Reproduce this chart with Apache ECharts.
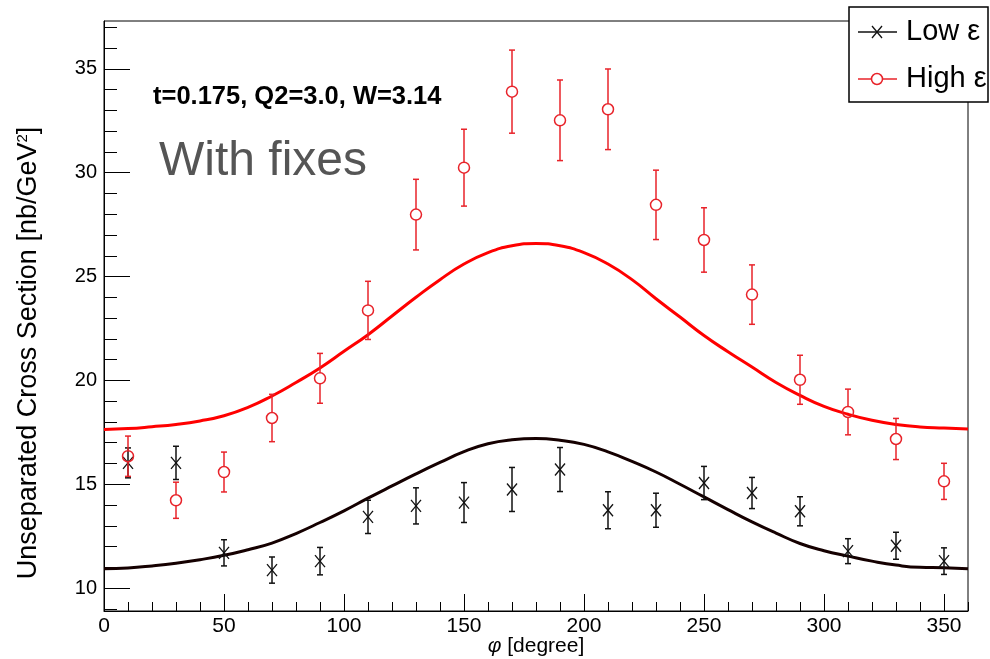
<!DOCTYPE html>
<html>
<head>
<meta charset="utf-8">
<title>Unseparated Cross Section</title>
<script src="https://cdn.jsdelivr.net/npm/echarts@6/dist/echarts.min.js"></script>
<style>
  html, body { margin:0; padding:0; background:#fff; }
  #chart { width:990px; height:659px; }
</style>
</head>
<body>
<div id="chart"></div>
<script>
const FONT = 'Liberation Sans, Arial, Helvetica, sans-serif';

// measured points (phi in degree)
const phi = [10, 30, 50, 70, 90, 110, 130, 150, 170, 190, 210, 230, 250, 270, 290, 310, 330, 350];
const lowEps  = [16.03, 16.03, 11.70, 10.87, 11.30, 13.43, 13.96, 14.12, 14.75, 15.71, 13.75, 13.75, 15.06, 14.58, 13.70, 11.78, 12.04, 11.30];
const lowErr  = [0.72, 0.80, 0.63, 0.63, 0.66, 0.80, 0.87, 0.96, 1.06, 1.06, 0.89, 0.82, 0.80, 0.75, 0.70, 0.60, 0.65, 0.64];
const highEps = [16.35, 14.23, 15.59, 18.19, 20.10, 23.37, 27.98, 30.24, 33.90, 32.52, 33.05, 28.45, 26.76, 24.13, 20.03, 18.48, 17.18, 15.14];
const highErr = [0.97, 0.87, 0.96, 1.14, 1.20, 1.40, 1.70, 1.85, 2.00, 1.94, 1.94, 1.67, 1.55, 1.43, 1.18, 1.10, 0.99, 0.87];

// fitted curves, read every 10 degree
const fitPhi = [0, 10, 20, 30, 40, 50, 60, 70, 80, 90, 100, 110, 120, 130, 140, 150, 160, 170, 180,
                190, 200, 210, 220, 230, 240, 250, 260, 270, 280, 290, 300, 310, 320, 330, 340, 350, 360];
const lowFit  = [10.93, 10.97, 11.07, 11.20, 11.37, 11.58, 11.85, 12.17, 12.63, 13.16, 13.72, 14.33, 14.92, 15.50, 16.05, 16.57, 16.95, 17.14, 17.20,
                 17.12, 16.92, 16.56, 16.10, 15.59, 15.00, 14.39, 13.78, 13.19, 12.65, 12.15, 11.80, 11.54, 11.30, 11.11, 11.00, 10.98, 10.93];
const highFit = [17.64, 17.68, 17.77, 17.88, 18.05, 18.30, 18.70, 19.25, 19.90, 20.60, 21.40, 22.20, 23.10, 24.00, 24.85, 25.60, 26.15, 26.48, 26.59,
                 26.48, 26.15, 25.60, 24.85, 23.93, 23.05, 22.16, 21.38, 20.64, 19.90, 19.28, 18.75, 18.37, 18.08, 17.88, 17.76, 17.71, 17.66];

// axis ticks and labels
const xMinorTicks = [10, 20, 30, 40, 60, 70, 80, 90, 110, 120, 130, 140, 160, 170, 180, 190, 210, 220, 230, 240, 260, 270, 280, 290, 310, 320, 330, 340, 360];
const xMajorTicks = [0, 50, 100, 150, 200, 250, 300, 350];
const xLabels = [0, 50, 100, 150, 200, 250, 300, 350];
const yMinorTicks = [9, 11, 12, 13, 14, 16, 17, 18, 19, 21, 22, 23, 24, 26, 27, 28, 29, 31, 32, 33, 34, 36, 37];
const yMajorTicks = [10, 15, 20, 25, 30, 35];
const yLabels = [10, 15, 20, 25, 30, 35];

const RED = '#e8232a';
const BLACK = '#111111';

function errorBarRender(kind){
    return function(params, api){
        let x = api.value(0), y = api.value(1), e = api.value(2);
        let c = api.coord([x, y]);
        let top = api.coord([x, y + e]);
        let bot = api.coord([x, y - e]);
        let color = kind === 'high' ? RED : BLACK;
        let lw = 1.5;
        let children = [];
        let line = (x1, y1, x2, y2, w)=>({
            type:'line',
            shape:{ x1:x1, y1:y1, x2:x2, y2:y2 },
            style:{ stroke:color, lineWidth:w || lw }
        });
        if ( kind === 'high' ){
            let r = 5.5;
            children.push(line(c[0], top[1], c[0], c[1] - r));
            children.push(line(c[0], c[1] + r, c[0], bot[1]));
            children.push({
                type:'circle',
                shape:{ cx:c[0], cy:c[1], r:r },
                style:{ fill:'none', stroke:color, lineWidth:1.5 }
            });
        } else {
            children.push(line(c[0], top[1], c[0], bot[1]));
            children.push(line(c[0] - 5, c[1] - 6, c[0] + 5, c[1] + 6, 1.3));
            children.push(line(c[0] - 5, c[1] + 6, c[0] + 5, c[1] - 6, 1.3));
        }
        children.push(line(c[0] - 3, top[1], c[0] + 3, top[1]));
        children.push(line(c[0] - 3, bot[1], c[0] + 3, bot[1]));
        return { type:'group', children:children };
    }
}

let myChart = echarts.init(document.getElementById('chart'));

let axisCommon = {
    type:'value',
    splitLine:{ show:false },
    axisLine:{ show:true, onZero:false, lineStyle:{ color:'#000', width:1 } }
};

let option = {
    animation:false,
    backgroundColor:'#fff',
    grid:{
        left:104,
        right:22,
        top:21,
        bottom:48,
        show:true,
        borderColor:'#000',
        borderWidth:1,
        containLabel:false,
        outerBoundsMode:'none'
    },
    xAxis:[
        Object.assign({}, axisCommon, {
            min:0,
            max:360,
            position:'bottom',
            name:'{i|φ} [degree]',
            nameLocation:'middle',
            nameGap:25,
            nameMoveOverlap:false,
            nameTextStyle:{
                fontFamily:FONT, fontSize:21, color:'#000',
                rich:{ i:{ fontFamily:FONT, fontSize:21, fontStyle:'italic', color:'#000' } }
            },
            axisTick:{ show:true, inside:true, length:9, customValues:xMinorTicks, lineStyle:{ color:'#000' } },
            axisLabel:{ customValues:xLabels, fontFamily:FONT, fontSize:21, color:'#000', margin:5 }
        }),
        Object.assign({}, axisCommon, {
            min:0,
            max:360,
            position:'bottom',
            axisLine:{ show:false },
            axisTick:{ show:true, inside:true, length:17, customValues:xMajorTicks, lineStyle:{ color:'#000' } },
            axisLabel:{ show:false }
        })
    ],
    yAxis:[
        Object.assign({}, axisCommon, {
            min:8.9,
            max:37.3,
            position:'left',
            name:'Unseparated Cross Section [nb/GeV{sup|2}]',
            nameLocation:'middle',
            nameGap:62,
            nameMoveOverlap:false,
            nameTextStyle:{
                fontFamily:FONT, fontSize:27, color:'#000',
                padding:[0, 74, 0, 0],
                rich:{ sup:{ fontFamily:FONT, fontSize:15, color:'#000', verticalAlign:'top', padding:[0, 0, 12, 0] } }
            },
            axisTick:{ show:true, inside:true, length:13, customValues:yMinorTicks, lineStyle:{ color:'#000' } },
            axisLabel:{ customValues:yLabels, fontFamily:FONT, fontSize:20, color:'#000', margin:7 }
        }),
        Object.assign({}, axisCommon, {
            min:8.9,
            max:37.3,
            position:'left',
            axisLine:{ show:false },
            axisTick:{ show:true, inside:true, length:26, customValues:yMajorTicks, lineStyle:{ color:'#000' } },
            axisLabel:{ show:false }
        })
    ],
    series:[
        {
            type:'line',
            name:'High ε fit',
            data:fitPhi.map((p, i)=>[p, highFit[i]]),
            smooth:true,
            showSymbol:false,
            lineStyle:{ color:'#ff0000', width:3 },
            z:2
        },
        {
            type:'line',
            name:'Low ε fit',
            data:fitPhi.map((p, i)=>[p, lowFit[i]]),
            smooth:true,
            showSymbol:false,
            lineStyle:{ color:'#150000', width:3 },
            z:2
        },
        {
            type:'custom',
            name:'Low ε',
            renderItem:errorBarRender('low'),
            encode:{ x:0, y:1 },
            data:phi.map((p, i)=>[p, lowEps[i], lowErr[i]]),
            z:3
        },
        {
            type:'custom',
            name:'High ε',
            renderItem:errorBarRender('high'),
            encode:{ x:0, y:1 },
            data:phi.map((p, i)=>[p, highEps[i], highErr[i]]),
            z:3
        }
    ],
    graphic:[
        {
            type:'text',
            left:153,
            top:84,
            style:{ text:'t=0.175, Q2=3.0, W=3.14', font:'bold 25.5px ' + FONT, fill:'#000' }
        },
        {
            type:'text',
            left:159,
            top:138,
            style:{ text:'With fixes', font:'48px ' + FONT, fill:'#555555' }
        },
        {
            type:'group',
            z:100,
            children:[
                { type:'rect', shape:{ x:849, y:7, width:139, height:95 }, style:{ fill:'#fff', stroke:'#000', lineWidth:1.5 } },
                { type:'line', shape:{ x1:858, y1:32, x2:897, y2:32 }, style:{ stroke:BLACK, lineWidth:1.3 } },
                { type:'line', shape:{ x1:872, y1:26, x2:882, y2:38 }, style:{ stroke:BLACK, lineWidth:1.3 } },
                { type:'line', shape:{ x1:872, y1:38, x2:882, y2:26 }, style:{ stroke:BLACK, lineWidth:1.3 } },
                { type:'text', style:{ x:906, y:32, text:'Low ε', font:'29px ' + FONT, fill:'#000', verticalAlign:'middle' } },
                { type:'line', shape:{ x1:858, y1:79, x2:897, y2:79 }, style:{ stroke:RED, lineWidth:1.3 } },
                { type:'circle', shape:{ cx:877, cy:79, r:5.5 }, style:{ fill:'#fff', stroke:RED, lineWidth:1.5 } },
                { type:'text', style:{ x:906, y:79, text:'High ε', font:'29px ' + FONT, fill:'#000', verticalAlign:'middle' } }
            ]
        }
    ]
};
myChart.setOption(option);
</script>
</body>
</html>
